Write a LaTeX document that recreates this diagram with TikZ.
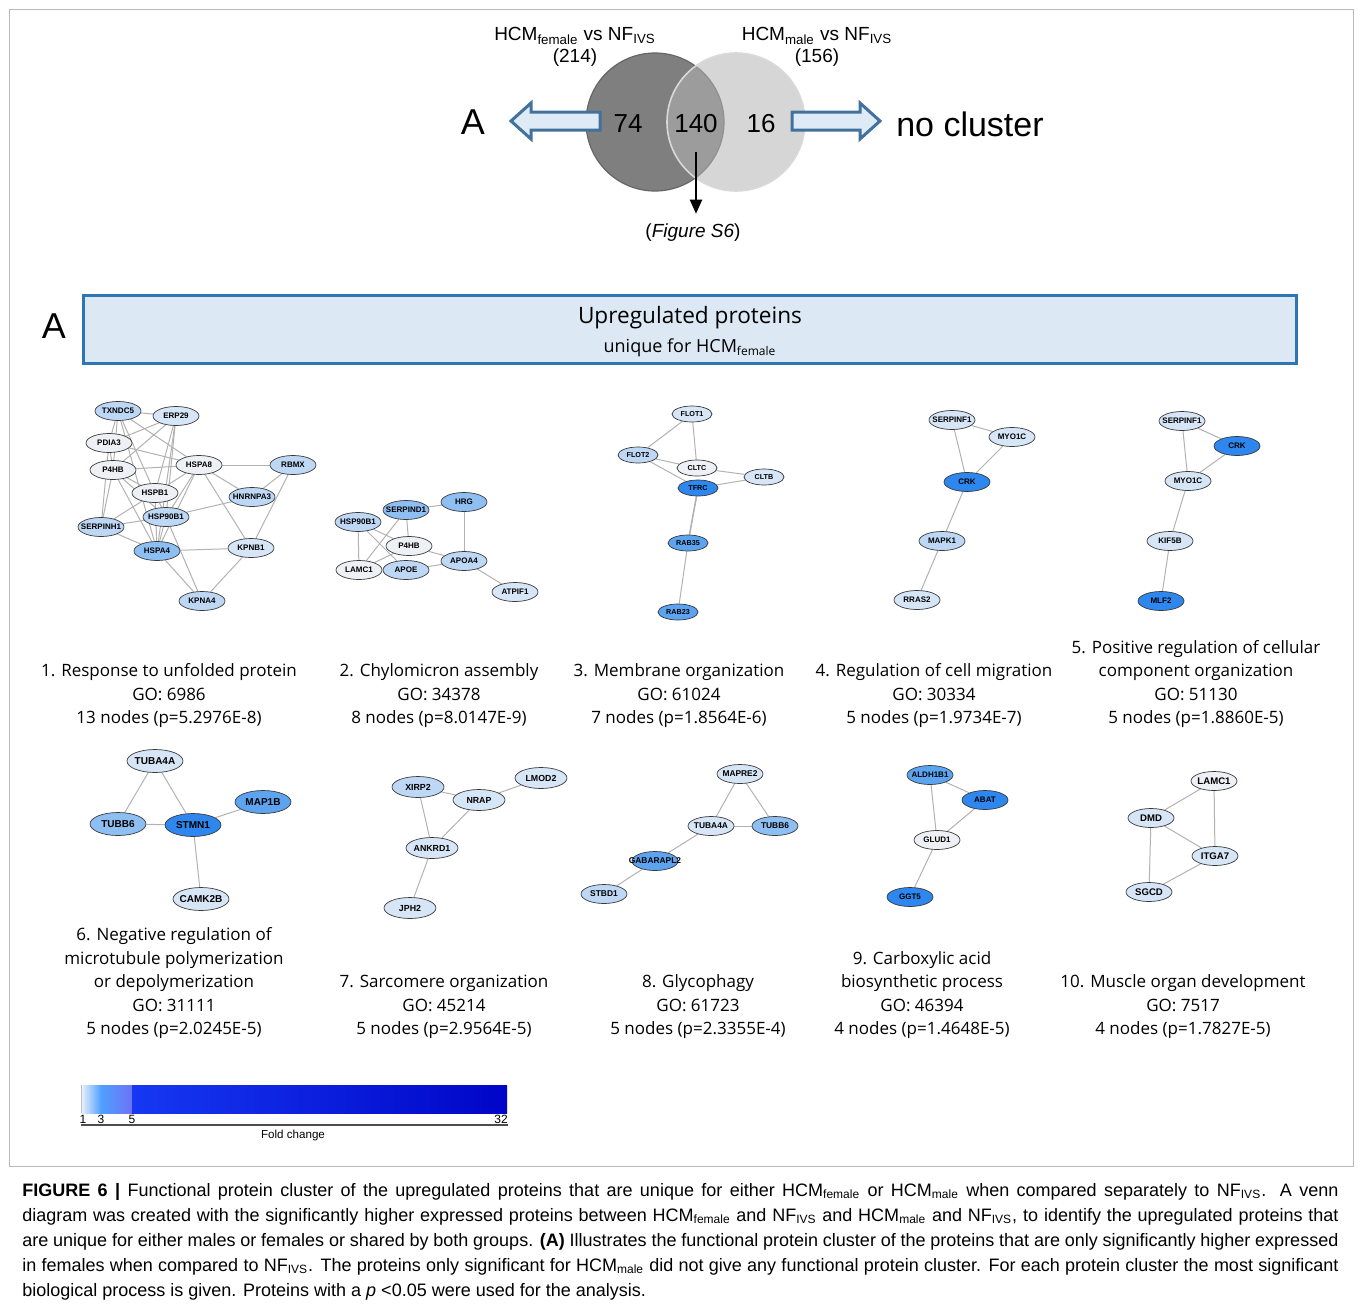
\documentclass[tikz,border=0pt]{standalone}
\usepackage{fontspec}
\setmainfont{Liberation Sans}
\newfontfamily\labfont{Open Sans}
\usetikzlibrary{shapes.geometric,arrows.meta,backgrounds}

\definecolor{fcA}{HTML}{EDF0F5}
\definecolor{fcB}{HTML}{D6E6F7}
\definecolor{fcC}{HTML}{BDD7F4}
\definecolor{fcD}{HTML}{8EBFF2}
\definecolor{fcE}{HTML}{5CA3F0}
\definecolor{fcF}{HTML}{2E87EE}
\definecolor{vennL}{HTML}{7F7F7F}
\definecolor{vennR}{HTML}{B4B4B4}
\definecolor{boxfill}{HTML}{DCE9F5}
\definecolor{boxedge}{HTML}{2E75B6}
\definecolor{arrfill}{HTML}{DEEBF7}
\definecolor{arredge}{HTML}{41719C}
\definecolor{cbA}{HTML}{EEF3FA}
\definecolor{cbB}{HTML}{4FA0FF}
\definecolor{cbC}{HTML}{6C73F5}
\definecolor{cbD}{HTML}{1638F2}
\definecolor{cbE}{HTML}{0005C8}

\newcommand{\subtxt}[1]{\textsubscript{#1}}

\tikzset{
  prot/.style={ellipse, draw=gray!45!black, line width=0.35pt, inner sep=0pt,
    font=\bfseries\fontsize{#1}{#1}\selectfont,
    minimum width=23pt, minimum height=9.5pt,
    execute at begin node={\hbox to 0pt\bgroup\hss},
    execute at end node={\hss\egroup}},
  prot/.default=4,
  protS/.style={prot=3.6, minimum width=20pt, minimum height=8pt},
  protM/.style={prot=4.4, minimum width=26pt, minimum height=10.5pt},
  protL/.style={prot=5, minimum width=28pt, minimum height=11.5pt},
  link/.style={draw=gray!60, line width=0.5pt},
  golabel/.style={anchor=south, align=center, inner sep=0pt,
    font=\labfont\fontsize{8.5}{11.75}\selectfont},
  venntxt/.style={inner sep=0pt, font=\fontsize{9.5}{11}\selectfont},
  bigtxt/.style={inner sep=0pt, font=\fontsize{18}{18}\selectfont},
  numtxt/.style={inner sep=0pt, font=\fontsize{13}{13}\selectfont},
  blockarrow/.style={draw=arredge, fill=arrfill, line width=1.5pt, line join=miter},
  cbtxt/.style={inner sep=0pt, font=\fontsize{6}{6}\selectfont}
}

\begin{document}
\begin{tikzpicture}[x=0.5pt,y=-0.5pt]
\useasboundingbox (0,0) rectangle (1360,1306);
\draw[gray!55, line width=0.5pt] (9,9) rectangle (1353,1166);

% venn diagram
\node[circle, minimum size=69pt, fill=vennL, draw=gray!80!black, line width=0.6pt] (vfem) at (655,122) {};
\node[circle, minimum size=69pt, fill=vennR, fill opacity=0.55, draw=gray!30, line width=0.8pt] (vmale) at (736,122) {};
\node[venntxt] (femlab) at (575,36) {HCM\subtxt{female} vs NF\subtxt{IVS}};
\node[venntxt] (femnum) at (575,58) {(214)};
\node[venntxt] (malelab) at (817,36) {HCM\subtxt{male} vs NF\subtxt{IVS}};
\node[venntxt] (malenum) at (817,58) {(156)};
\node[numtxt] (n74) at (628,124) {74};
\node[numtxt] (n140) at (696,124) {140};
\node[numtxt] (n16) at (761,124) {16};
\node[bigtxt] (toA) at (473,122) {A};
\node[inner sep=0pt, font=\fontsize{17}{17}\selectfont] (nocl) at (970,124) {no cluster};
\path[blockarrow] (511,121) -- (531,103) -- (531,112) -- (600,112) -- (600,130) -- (531,130) -- (531,139) -- cycle;
\path[blockarrow] (880,121) -- (860,103) -- (860,112) -- (792,112) -- (792,130) -- (860,130) -- (860,139) -- cycle;
\node[venntxt] (figs6) at (693,233) {(\textit{Figure S6})};
\coordinate (c140) at (696,152);
\path[draw, line width=1pt, shorten >=5pt, -{Triangle[length=7pt,width=6pt]}] (c140) -- (c140 |- figs6.north);

% header
\node[draw=boxedge, fill=boxfill, line width=1.5pt, minimum width=606.5pt, minimum height=34pt, inner sep=0pt] (hdr) at (689.5,329) {};
\node[inner sep=0pt, font=\labfont\fontsize{11.3}{12}\selectfont] (hdrtop) at (690,318) {Upregulated proteins};
\node[inner sep=0pt, font=\labfont\fontsize{9}{10}\selectfont] (hdrsub) at (690,348) {unique for HCM\subtxt{female}};
\node[bigtxt] (panelA) at (54,326) {A};

% cluster 1
\node[prot, fill=fcC] (txndc5) at (118,411) {TXNDC5};
\node[prot, fill=fcB] (erp29) at (176,416) {ERP29};
\node[prot, fill=fcA] (pdia3) at (109,443) {PDIA3};
\node[prot, fill=fcA] (p4hb) at (113,470) {P4HB};
\node[prot, fill=fcA] (hspa8) at (199,465) {HSPA8};
\node[prot, fill=fcC] (rbmx) at (293,465) {RBMX};
\node[prot, fill=fcA] (hspb1) at (155,493) {HSPB1};
\node[prot, fill=fcC] (hnrnpa3) at (252,497) {HNRNPA3};
\node[prot, fill=fcC] (hsp90b1) at (166,517) {HSP90B1};
\node[prot, fill=fcC] (serpinh1) at (101,527) {SERPINH1};
\node[prot, fill=fcD] (hspa4) at (157,551) {HSPA4};
\node[prot, fill=fcB] (kpnb1) at (251,548) {KPNB1};
\node[prot, fill=fcC] (kpna4) at (202,601) {KPNA4};
\begin{scope}[on background layer]
\path[link] (txndc5) -- (erp29);
\path[link] (txndc5) -- (pdia3);
\path[link] (txndc5) -- (p4hb);
\path[link] (txndc5) -- (hspa8);
\path[link] (txndc5) -- (hspb1);
\path[link] (txndc5) -- (hspa4);
\path[link] (erp29) -- (pdia3);
\path[link] (erp29) -- (p4hb);
\path[link] (erp29) -- (hspb1);
\path[link] (erp29) -- (hsp90b1);
\path[link] (erp29) -- (hspa4);
\path[link] (pdia3) -- (p4hb);
\path[link] (pdia3) -- (hspa8);
\path[link] (pdia3) -- (serpinh1);
\path[link] (p4hb) -- (hspa8);
\path[link] (p4hb) -- (hspb1);
\path[link] (p4hb) -- (hsp90b1);
\path[link] (p4hb) -- (serpinh1);
\path[link] (p4hb) -- (hspa4);
\path[link] (hspa8) -- (rbmx);
\path[link] (hspa8) -- (hnrnpa3);
\path[link] (hspa8) -- (kpnb1);
\path[link] (hspa8) -- (hspb1);
\path[link] (hspa8) -- (hsp90b1);
\path[link] (hspa8) -- (hspa4);
\path[link] (rbmx) -- (hnrnpa3);
\path[link] (rbmx) -- (kpnb1);
\path[link] (hspb1) -- (serpinh1);
\path[link] (hspb1) -- (hspa4);
\path[link] (hspb1) -- (hsp90b1);
\path[link] (hnrnpa3) -- (hsp90b1);
\path[link] (hsp90b1) -- (serpinh1);
\path[link] (hsp90b1) -- (hspa4);
\path[link] (hsp90b1) -- (kpna4);
\path[link] (serpinh1) -- (hspa4);
\path[link] (hspa4) -- (kpnb1);
\path[link] (hspa4) -- (kpna4);
\path[link] (kpnb1) -- (kpna4);
\end{scope}

% cluster 2
\node[prot, fill=fcC] (hsp90b1x2) at (358,522) {HSP90B1};
\node[prot, fill=fcD] (serpind1) at (406,510) {SERPIND1};
\node[prot, fill=fcD] (hrg) at (464,502) {HRG};
\node[prot, fill=fcA] (p4hbx2) at (409,546) {P4HB};
\node[prot, fill=fcA] (lamc1x2) at (359,570) {LAMC1};
\node[prot, fill=fcC] (apoe) at (406,570) {APOE};
\node[prot, fill=fcC] (apoa4) at (464,561) {APOA4};
\node[prot, fill=fcB] (atpif1) at (515,592) {ATPIF1};
\begin{scope}[on background layer]
\path[link] (hsp90b1x2) -- (lamc1x2);
\path[link] (hsp90b1x2) -- (p4hbx2);
\path[link] (hsp90b1x2) -- (apoe);
\path[link] (serpind1) -- (p4hbx2);
\path[link] (serpind1) -- (lamc1x2);
\path[link] (serpind1) -- (hrg);
\path[link] (hrg) -- (apoa4);
\path[link] (p4hbx2) -- (lamc1x2);
\path[link] (p4hbx2) -- (apoa4);
\path[link] (apoe) -- (apoa4);
\path[link] (apoa4) -- (atpif1);
\end{scope}

% cluster 3
\node[protS, fill=fcB] (flot1) at (692,414) {FLOT1};
\node[protS, fill=fcC] (flot2) at (638,455) {FLOT2};
\node[protS, fill=fcA] (cltc) at (697,468) {CLTC};
\node[protS, fill=fcB] (cltb) at (764,477) {CLTB};
\node[protS, fill=fcF] (tfrc) at (698,488) {TFRC};
\node[protS, fill=fcE] (rab35) at (688,543) {RAB35};
\node[protS, fill=fcE] (rab23) at (678,612) {RAB23};
\begin{scope}[on background layer]
\path[link] (flot1) -- (flot2);
\path[link] (flot1) -- (cltc);
\path[link] (flot2) -- (cltc);
\path[link] (flot2) -- (tfrc);
\path[link] (cltc) -- (cltb);
\path[link] (tfrc) -- (cltb);
\path[link, line width=0.8pt] (tfrc) -- (rab35);
\path[link] (rab35) -- (rab23);
\end{scope}

% cluster 4
\node[prot, fill=fcB] (serpinf1) at (952,420) {SERPINF1};
\node[prot, fill=fcB] (myo1c) at (1012,437) {MYO1C};
\node[prot, fill=fcF] (crk) at (967,482) {CRK};
\node[prot, fill=fcC] (mapk1) at (942,541) {MAPK1};
\node[prot, fill=fcB] (rras2) at (917,600) {RRAS2};
\begin{scope}[on background layer]
\path[link] (serpinf1) -- (myo1c);
\path[link] (serpinf1) -- (crk);
\path[link] (myo1c) -- (crk);
\path[link] (crk) -- (mapk1);
\path[link] (mapk1) -- (rras2);
\end{scope}

% cluster 5
\node[prot, fill=fcB] (serpinf1x5) at (1182,421) {SERPINF1};
\node[prot, fill=fcF] (crkx5) at (1237,446) {CRK};
\node[prot, fill=fcB] (myo1cx5) at (1188,481) {MYO1C};
\node[prot, fill=fcB] (kif5b) at (1170,541) {KIF5B};
\node[prot, fill=fcF] (mlf2) at (1161,601) {MLF2};
\begin{scope}[on background layer]
\path[link] (serpinf1x5) -- (crkx5);
\path[link] (serpinf1x5) -- (myo1cx5);
\path[link] (crkx5) -- (myo1cx5);
\path[link] (myo1cx5) -- (kif5b);
\path[link] (kif5b) -- (mlf2);
\end{scope}

% cluster 6
\node[protL, fill=fcB] (tuba4a) at (155,761) {TUBA4A};
\node[protL, fill=fcE] (map1b) at (263,802) {MAP1B};
\node[protL, fill=fcD] (tubb6) at (118,824) {TUBB6};
\node[protL, fill=fcF] (stmn1) at (193,825) {STMN1};
\node[protL, fill=fcB] (camk2b) at (201,899) {CAMK2B};
\begin{scope}[on background layer]
\path[link] (tuba4a) -- (tubb6);
\path[link] (tuba4a) -- (stmn1);
\path[link] (tubb6) -- (stmn1);
\path[link] (stmn1) -- (map1b);
\path[link] (stmn1) -- (camk2b);
\end{scope}

% cluster 7
\node[protM, fill=fcC] (xirp2) at (418,787) {XIRP2};
\node[protM, fill=fcB] (lmod2) at (541,778) {LMOD2};
\node[protM, fill=fcB] (nrap) at (479,800) {NRAP};
\node[protM, fill=fcB] (ankrd1) at (432,848) {ANKRD1};
\node[protM, fill=fcB] (jph2) at (410,908) {JPH2};
\begin{scope}[on background layer]
\path[link] (xirp2) -- (nrap);
\path[link] (xirp2) -- (ankrd1);
\path[link] (nrap) -- (lmod2);
\path[link] (nrap) -- (ankrd1);
\path[link] (ankrd1) -- (jph2);
\end{scope}

% cluster 8
\node[prot=4.2, fill=fcB] (mapre2) at (740,774) {MAPRE2};
\node[prot=4.2, fill=fcB] (tuba4ax8) at (711,826) {TUBA4A};
\node[prot=4.2, fill=fcD] (tubb6x8) at (775,826) {TUBB6};
\node[prot=4.2, fill=fcE] (gabarapl2) at (655,861) {GABARAPL2};
\node[prot=4.2, fill=fcC] (stbd1) at (604,894) {STBD1};
\begin{scope}[on background layer]
\path[link] (mapre2) -- (tuba4ax8);
\path[link] (mapre2) -- (tubb6x8);
\path[link] (tuba4ax8) -- (tubb6x8);
\path[link] (tuba4ax8) -- (gabarapl2);
\path[link] (gabarapl2) -- (stbd1);
\end{scope}

% cluster 9
\node[prot, fill=fcE] (aldh1b1) at (930,775) {ALDH1B1};
\node[prot, fill=fcF] (abat) at (985,800) {ABAT};
\node[prot, fill=fcA] (glud1) at (937,840) {GLUD1};
\node[prot, fill=fcF] (ggt5) at (910,897) {GGT5};
\begin{scope}[on background layer]
\path[link] (aldh1b1) -- (abat);
\path[link] (aldh1b1) -- (glud1);
\path[link] (abat) -- (glud1);
\path[link] (glud1) -- (ggt5);
\end{scope}

% cluster 10
\node[protL, prot=4.8, fill=fcA] (lamc1x10) at (1214,781) {LAMC1};
\node[protL, prot=4.8, fill=fcB] (dmd) at (1151,818) {DMD};
\node[protL, prot=4.8, fill=fcB] (itga7) at (1215,856) {ITGA7};
\node[protL, prot=4.8, fill=fcB] (sgcd) at (1149,892) {SGCD};
\begin{scope}[on background layer]
\path[link] (lamc1x10) -- (dmd);
\path[link] (lamc1x10) -- (itga7);
\path[link] (dmd) -- (itga7);
\path[link] (dmd) -- (sgcd);
\path[link] (itga7) -- (sgcd);
\end{scope}

% cluster captions
\node[golabel] (go1) at (169,728) {1. Response to unfolded protein\\GO: 6986\\13 nodes (p=5.2976E-8)};
\node[golabel] (go2) at (439,728) {2. Chylomicron assembly\\GO: 34378\\8 nodes (p=8.0147E-9)};
\node[golabel] (go3) at (679,728) {3. Membrane organization\\GO: 61024\\7 nodes (p=1.8564E-6)};
\node[golabel] (go4) at (934,728) {4. Regulation of cell migration\\GO: 30334\\5 nodes (p=1.9734E-7)};
\node[golabel] (go5) at (1196,728) {5. Positive regulation of cellular\\component organization\\GO: 51130\\5 nodes (p=1.8860E-5)};
\node[golabel] (go6) at (174,1039) {6. Negative regulation of\\microtubule polymerization\\or depolymerization\\GO: 31111\\5 nodes (p=2.0245E-5)};
\node[golabel] (go7) at (444,1039) {7. Sarcomere organization\\GO: 45214\\5 nodes (p=2.9564E-5)};
\node[golabel] (go8) at (698,1039) {8. Glycophagy\\GO: 61723\\5 nodes (p=2.3355E-4)};
\node[golabel] (go9) at (922,1039) {9. Carboxylic acid\\biosynthetic process\\GO: 46394\\4 nodes (p=1.4648E-5)};
\node[golabel] (go10) at (1183,1039) {10. Muscle organ development\\GO: 7517\\4 nodes (p=1.7827E-5)};

% fold change bar
\shade[left color=cbA, right color=cbB] (81,1085) rectangle (101,1113);
\shade[left color=cbB, right color=cbC] (101,1085) rectangle (132,1113);
\shade[left color=cbD, right color=cbE] (132,1085) rectangle (507,1113);
\draw[gray!50, line width=0.4pt] (81,1085) -- (81,1113);
\draw[gray!60!black, line width=0.6pt] (81,1125) -- (508,1125);
\node[cbtxt] (t1) at (83,1119) {1};
\node[cbtxt] (t3) at (101,1119) {3};
\node[cbtxt] (t5) at (132,1119) {5};
\node[cbtxt] (t32) at (501,1119) {32};
\node[cbtxt, font=\fontsize{5.8}{6}\selectfont] (fold) at (293,1135) {Fold change};

% caption
\node[anchor=north west, inner sep=0pt, align=left, font=\fontsize{9}{12.5}\selectfont] (capt) at (22,1183) {%
\makebox[658pt][s]{\textbf{FIGURE 6 |} Functional protein cluster of the upregulated proteins that are unique for either HCM\subtxt{female} or HCM\subtxt{male} when compared separately to NF\subtxt{IVS}. A venn}\\
\makebox[658pt][s]{diagram was created with the significantly higher expressed proteins between HCM\subtxt{female} and NF\subtxt{IVS} and HCM\subtxt{male} and NF\subtxt{IVS}, to identify the upregulated proteins that}\\
\makebox[658pt][s]{are unique for either males or females or shared by both groups. \textbf{(A)} Illustrates the functional protein cluster of the proteins that are only significantly higher expressed}\\
\makebox[658pt][s]{in females when compared to NF\subtxt{IVS}. The proteins only significant for HCM\subtxt{male} did not give any functional protein cluster. For each protein cluster the most significant}\\
biological process is given. Proteins with a \textit{p} <0.05 were used for the analysis.};
\end{tikzpicture}
\end{document}
